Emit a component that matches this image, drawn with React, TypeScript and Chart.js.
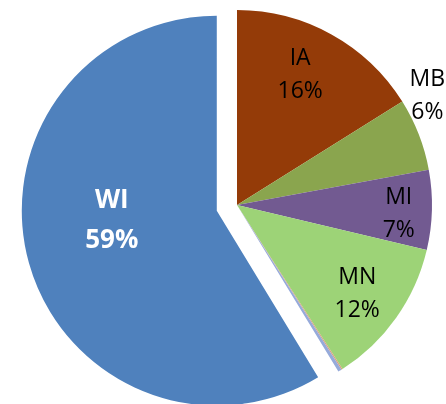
import React, { useEffect, useRef } from "react";
import { Chart, registerables } from "chart.js";

Chart.register(...registerables);

const categories = ["IA", "MB", "MI", "MN", "Other A", "Other B", "WI"];
const values = [16.1, 6.0, 6.6, 12.2, 0.1, 0.3, 58.7];
const showLabel = [true, true, true, true, false, false, true];
const colors = ["#943B08", "#8AA54E", "#725A91", "#9DD377", "#D8A27C", "#96AADA", "#4F81BD"];
// exploded distance (px) for each slice
const explode = [0, 0, 0, 0, 0, 0, 21];

// label placement style (angle shift in degrees, radial fraction, font)
const labelStyle: Record<string, { shift: number; frac: number; size: number; bold: boolean; color: string; gap: number }> = {
  IA: { shift: -3.4, frac: 0.75, size: 23, bold: false, color: "#000000", gap: 33 },
  MB: { shift: -9, frac: 1.13, size: 23, bold: false, color: "#000000", gap: 33 },
  MI: { shift: 0.9, frac: 0.83, size: 23, bold: false, color: "#000000", gap: 33 },
  MN: { shift: 0.5, frac: 0.76, size: 23, bold: false, color: "#000000", gap: 33 },
  WI: { shift: 11.3, frac: 0.54, size: 26, bold: true, color: "#FFFFFF", gap: 40 },
};
const textDy = 2;

const explodePlugin = {
  id: "explodeSlices",
  afterDatasetUpdate(chart: any, args: any) {
    const meta = chart.getDatasetMeta(args.index);
    meta.data.forEach((arc: any, i: number) => {
      const d = explode[i] || 0;
      if (!d) return;
      const mid = (arc.startAngle + arc.endAngle) / 2;
      arc.x += Math.cos(mid) * d;
      arc.y += Math.sin(mid) * d;
    });
  },
};

const labelPlugin = {
  id: "sliceLabels",
  afterDatasetsDraw(chart: any) {
    const meta = chart.getDatasetMeta(0);
    const data = chart.data.datasets[0].data as number[];
    const total = data.reduce((a, b) => a + b, 0);
    const ctx = chart.ctx;
    ctx.save();
    ctx.textAlign = "center";
    ctx.textBaseline = "middle";
    meta.data.forEach((arc: any, i: number) => {
      if (!showLabel[i]) return;
      const name = categories[i];
      const st = labelStyle[name];
      const p = arc.getProps(["x", "y", "startAngle", "endAngle", "outerRadius"], true);
      const mid = (p.startAngle + p.endAngle) / 2 + (st.shift * Math.PI) / 180;
      const r = p.outerRadius * st.frac;
      const cx = p.x + Math.cos(mid) * r;
      const cy = p.y + Math.sin(mid) * r + textDy;
      const pct = Math.round((data[i] / total) * 100) + "%";
      ctx.fillStyle = st.color;
      ctx.font = `${st.bold ? "bold " : ""}${st.size}px "Open Sans", sans-serif`;
      ctx.fillText(name, cx, cy - st.gap / 2);
      ctx.fillText(pct, cx, cy + st.gap / 2);
    });
    ctx.restore();
  },
};

export default function App() {
  const ref = useRef<HTMLCanvasElement | null>(null);
  useEffect(() => {
    if (!ref.current) return;
    const chart = new Chart(ref.current, {
      type: "pie",
      data: {
        labels: categories,
        datasets: [
          {
            data: values,
            backgroundColor: colors,
            borderWidth: 0,
          },
        ],
      },
      options: {
        responsive: false,
        animation: false,
        radius: 195,
        layout: { padding: { left: 28, top: 6, right: 0, bottom: 0 } },
        plugins: {
          legend: { display: false },
          tooltip: { enabled: false },
        },
      },
      plugins: [explodePlugin, labelPlugin],
    });
    return () => chart.destroy();
  }, []);
  return (
    <div style={{ position: "fixed", left: 0, top: 0, width: 446, height: 404, background: "#fff" }}>
      <canvas ref={ref} width={446} height={404} />
    </div>
  );
}
